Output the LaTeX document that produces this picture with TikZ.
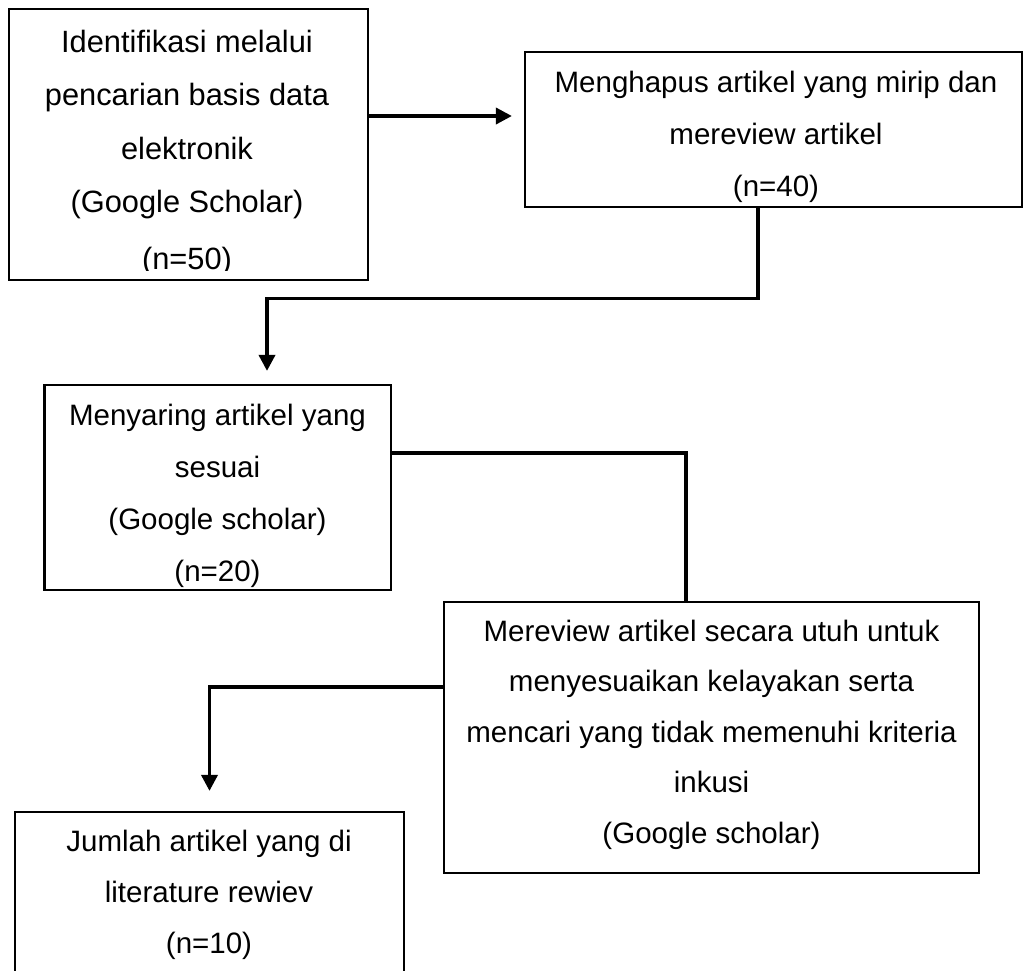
\documentclass[tikz,border=0pt]{standalone}
\usepackage{fontspec}
\setmainfont{Liberation Sans}
\usetikzlibrary{arrows.meta}
\begin{document}
\begin{tikzpicture}[x=1pt,y=-1pt,
  box/.style={draw=black, line width=2.2pt, rectangle, inner sep=0pt},
  txt/.style={align=center, inner sep=0pt, anchor=north, text=black},
  conn/.style={draw=black, line width=3.6pt},
  arr/.style={conn, -{Triangle[length=16pt,width=16pt]}},
]
\clip (0,0) rectangle (1024,970);
% boxes
\node[box, minimum width=359pt, minimum height=271pt] (b1) at (188.5,144.5) {};
\node[box, minimum width=497pt, minimum height=155pt] (b2) at (773.5,129.2) {};
\node[box, minimum width=346.5pt, minimum height=205pt] (b3) at (217.75,487.5) {};
\node[box, minimum width=535pt, minimum height=271pt] (b4) at (711.5,737.5) {};
\node[box, minimum width=389pt, minimum height=188pt] (b5) at (209.5,906) {};
% texts
\begin{scope}
\clip (9,9) rectangle (368,270);
\node[txt, font={\fontsize{30.8}{53.5}\selectfont}] (t1) at (187,29.8)
  {Identifikasi melalui\\ pencarian basis data\\ elektronik\\ (Google Scholar)\\[3.5pt] (n=50)};
\end{scope}
\node[txt, font={\fontsize{29.5}{52}\selectfont}] (t2) at (776,70.9)
  {Menghapus artikel yang mirip dan\\ mereview artikel\\ (n=40)};
\node[txt, font={\fontsize{29.5}{52.3}\selectfont}] (t3) at (217.5,403.5)
  {Menyaring artikel yang\\ sesuai\\ (Google scholar)\\ (n=20)};
\node[txt, font={\fontsize{29.5}{50.4}\selectfont}] (t4) at (711.5,619.9)
  {Mereview artikel secara utuh untuk\\ menyesuaikan kelayakan serta\\ mencari yang tidak memenuhi kriteria\\ inkusi\\ (Google scholar)};
\node[txt, font={\fontsize{29.5}{51}\selectfont}] (t5) at (209,829.9)
  {Jumlah artikel yang di\\ literature rewiev\\ (n=10)};
% connectors
\draw[arr, shorten >=12pt] ([yshift=28.5pt]b1.east) -- ([yshift=28.5pt]b1.east -| b2.west);
\draw[arr, shorten >=13pt] ([xshift=-15.7pt]b2.south) -- ++(0,90.5) -| ([xshift=49.25pt]b3.north);
\draw[conn] ([yshift=34.8pt]b3.east) -| ([xshift=-25.5pt]b4.north);
\draw[arr, shorten >=20pt] ([yshift=50.5pt]b4.west) -| (b5.north);
\end{tikzpicture}
\end{document}
